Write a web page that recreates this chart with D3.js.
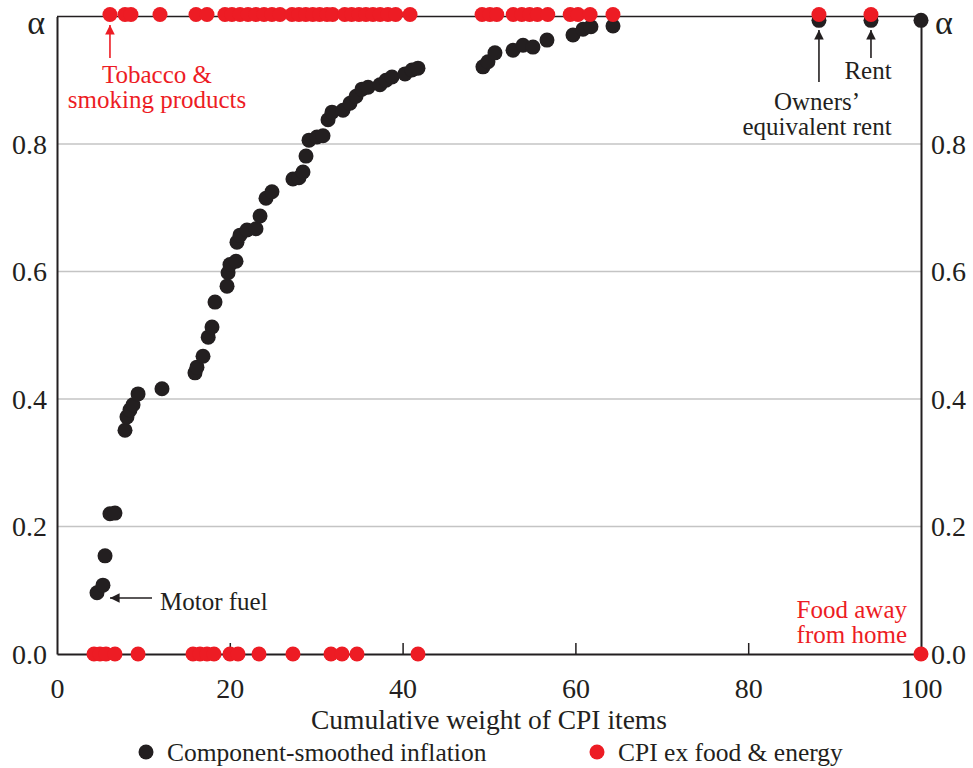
<!DOCTYPE html>
<html>
<head>
<meta charset="utf-8">
<script src="https://cdn.jsdelivr.net/npm/d3@7"></script>
<style>
  html, body { margin: 0; padding: 0; background: #fff; }
  svg { display: block; font-family: "Liberation Serif", "Times New Roman", serif; }
</style>
</head>
<body>
<svg id="chart" width="973" height="768"></svg>
<script>
// Component-smoothed inflation: cumulative CPI weight vs. alpha
const smoothedWeight = [4.63, 5.32, 5.56, 6.13, 6.71, 7.87, 8.10, 8.45, 8.80, 9.38, 12.15, 15.97, 16.2, 16.9, 17.5, 17.94, 18.29, 19.68, 19.8, 20.02, 20.72, 20.83, 21.18, 21.99, 23.03, 23.5, 24.19, 24.88, 27.31, 28.0, 28.47, 28.82, 29.17, 30.09, 30.79, 31.37, 31.83, 33.1, 33.91, 34.61, 35.3, 36.0, 37.38, 38.08, 38.77, 40.28, 41.09, 41.78, 49.3, 49.88, 50.69, 52.78, 53.94, 55.09, 56.71, 59.72, 60.88, 61.8, 64.35, 88.19, 94.21, 100];
const smoothedAlpha = [0.096, 0.108, 0.154, 0.220, 0.221, 0.351, 0.372, 0.383, 0.391, 0.408, 0.416, 0.441, 0.450, 0.467, 0.497, 0.513, 0.552, 0.577, 0.598, 0.611, 0.616, 0.646, 0.657, 0.665, 0.667, 0.687, 0.715, 0.725, 0.745, 0.747, 0.756, 0.781, 0.806, 0.811, 0.813, 0.838, 0.850, 0.853, 0.864, 0.875, 0.886, 0.889, 0.893, 0.900, 0.905, 0.910, 0.916, 0.919, 0.921, 0.929, 0.943, 0.947, 0.955, 0.952, 0.963, 0.971, 0.980, 0.984, 0.985, 0.994, 0.994, 0.994];

// CPI ex food & energy: each item is either fully in (1) or out (0)
const coreWeight = [6.13, 7.87, 8.56, 11.92, 16.09, 17.36, 19.44, 20.25, 21.18, 22.11, 23.03, 23.96, 24.88, 25.81, 27.2, 28.0, 28.8, 29.6, 30.4, 31.25, 31.9, 33.3, 34.1, 34.95, 35.76, 36.57, 37.4, 38.3, 39.2, 40.86, 49.2, 50.1, 50.9, 52.8, 53.8, 54.7, 55.6, 56.8, 59.4, 60.3, 61.7, 64.35, 88.19, 94.21,
                    4.28, 4.98, 5.67, 6.71, 9.38, 15.74, 16.55, 17.36, 18.17, 20.02, 20.95, 23.38, 27.31, 31.71, 32.99, 34.72, 41.78, 100];
const coreAlpha = [1, 1, 1, 1, 1, 1, 1, 1, 1, 1, 1, 1, 1, 1, 1, 1, 1, 1, 1, 1, 1, 1, 1, 1, 1, 1, 1, 1, 1, 1, 1, 1, 1, 1, 1, 1, 1, 1, 1, 1, 1, 1, 1, 1,
                   0, 0, 0, 0, 0, 0, 0, 0, 0, 0, 0, 0, 0, 0, 0, 0, 0, 0];

const xTicks = [0, 20, 40, 60, 80, 100];
const yTicks = [0, 0.2, 0.4, 0.6, 0.8, 1];
const gridValues = [0.2, 0.4, 0.6, 0.8];
const seriesNames = ["Component-smoothed inflation", "CPI ex food & energy"];

const BLACK = "#231f20", RED = "#ed1c24", GRID = "#c4c4c4";
const R = 7.5;

const svg = d3.select("#chart");
const x = d3.scaleLinear().domain([0, 100]).range([57, 921]);
const y = d3.scaleLinear().domain([0, 1]).range([654, 16.5]);

// Horizontal grid lines
svg.append("g").selectAll("line").data(gridValues).join("line")
  .attr("x1", x(0)).attr("x2", x(100))
  .attr("y1", d => y(d)).attr("y2", d => y(d))
  .attr("stroke", GRID).attr("stroke-width", 1.5);

// Top frame line
svg.append("line")
  .attr("x1", x(0)).attr("x2", x(100)).attr("y1", y(1)).attr("y2", y(1))
  .attr("stroke", BLACK).attr("stroke-width", 1.5);

const fmtY = d => d === 1 ? "α" : d3.format(".1f")(d);

function styleAxis(g) {
  g.select(".domain").attr("stroke", BLACK).attr("stroke-width", 2);
  g.selectAll(".tick line").attr("stroke", BLACK).attr("stroke-width", 1.5);
  g.selectAll("text").attr("fill", BLACK).attr("font-size", 28)
    .attr("font-family", "Liberation Serif, Times New Roman, serif");
}

// Left axis
const gl = svg.append("g").attr("transform", `translate(${x(0)},0)`)
  .call(d3.axisLeft(y).tickValues(yTicks).tickFormat(fmtY).tickSize(0).tickPadding(10));
styleAxis(gl);
gl.selectAll(".tick text").attr("dy", d => d === 1 ? "0.5em" : "0.33em")
  .attr("dx", d => d === 1 ? -2 : 0)
  .attr("font-size", d => d === 1 ? 34 : 28);

// Right axis
const gr = svg.append("g").attr("transform", `translate(${x(100)},0)`)
  .call(d3.axisRight(y).tickValues(yTicks).tickFormat(fmtY).tickSize(0).tickPadding(10));
styleAxis(gr);
gr.selectAll(".tick text").attr("dy", d => d === 1 ? "0.5em" : "0.33em")
  .attr("dx", d => d === 1 ? 4 : 0)
  .attr("font-size", d => d === 1 ? 34 : 28);

// Bottom axis with inward ticks
const gb = svg.append("g").attr("transform", `translate(0,${y(0)})`)
  .call(d3.axisBottom(x).tickValues(xTicks).tickSizeInner(-11).tickSizeOuter(0).tickPadding(0));
styleAxis(gb);
gb.selectAll(".tick text").attr("y", 44).attr("dy", 0);
gb.selectAll(".tick").filter(d => d === 0 || d === 100).select("line").remove();

// Axis title
svg.append("text")
  .attr("x", (x(0) + x(100)) / 2).attr("y", 729)
  .attr("text-anchor", "middle").attr("font-size", 27.5).attr("fill", BLACK)
  .text("Cumulative weight of CPI items");

// Points
svg.append("g").selectAll("circle").data(smoothedWeight).join("circle")
  .attr("cx", d => x(d)).attr("cy", (d, i) => y(smoothedAlpha[i]))
  .attr("r", R).attr("fill", BLACK);

svg.append("g").selectAll("circle").data(coreWeight).join("circle")
  .attr("cx", d => x(d)).attr("cy", (d, i) => y(coreAlpha[i]) - (coreAlpha[i] === 1 ? 2 : 0))
  .attr("r", R).attr("fill", RED);

// Arrowheads
const defs = svg.append("defs");
[["arrBlack", BLACK], ["arrRed", RED]].forEach(([id, c]) => {
  defs.append("marker").attr("id", id)
    .attr("viewBox", "0 0 10 10").attr("refX", 10).attr("refY", 5)
    .attr("markerWidth", 6).attr("markerHeight", 6).attr("orient", "auto")
    .append("path").attr("d", "M0,0 L10,5 L0,10 Z").attr("fill", c);
});

function arrow(x1, y1, x2, y2, color, marker) {
  svg.append("line").attr("x1", x1).attr("y1", y1).attr("x2", x2).attr("y2", y2)
    .attr("stroke", color).attr("stroke-width", 1.6)
    .attr("marker-end", `url(#${marker})`);
}

function label(lines, px, py, anchor, color, size = 25, lh = 25) {
  const t = svg.append("text").attr("text-anchor", anchor).attr("fill", color).attr("font-size", size);
  lines.forEach((s, i) => t.append("tspan").attr("x", px).attr("y", py + i * lh).text(s));
}

// Tobacco & smoking products
arrow(x(6.13), 58, x(6.13), 25, RED, "arrRed");
label(["Tobacco &", "smoking products"], 157, 83, "middle", RED);

// Motor fuel
arrow(152, 598, 110, 598, BLACK, "arrBlack");
label(["Motor fuel"], 160, 610, "start", BLACK);

// Owners' equivalent rent
arrow(x(88.19), 82, x(88.19), 30, BLACK, "arrBlack");
label(["Owners’", "equivalent rent"], 817, 110, "middle", BLACK);

// Rent
arrow(x(94.21), 58, x(94.21), 30, BLACK, "arrBlack");
label(["Rent"], 868, 79, "middle", BLACK);

// Food away from home
label(["Food away", "from home"], 907, 618, "end", RED);

// Legend
const legend = svg.append("g");
const legendX = [146, 597];
const legendColors = [BLACK, RED];
seriesNames.forEach((name, i) => {
  legend.append("circle").attr("cx", legendX[i]).attr("cy", 752).attr("r", R).attr("fill", legendColors[i]);
  legend.append("text").attr("x", legendX[i] + 21).attr("y", 761)
    .attr("font-size", 25.5).attr("fill", BLACK).text(name);
});
</script>
</body>
</html>
